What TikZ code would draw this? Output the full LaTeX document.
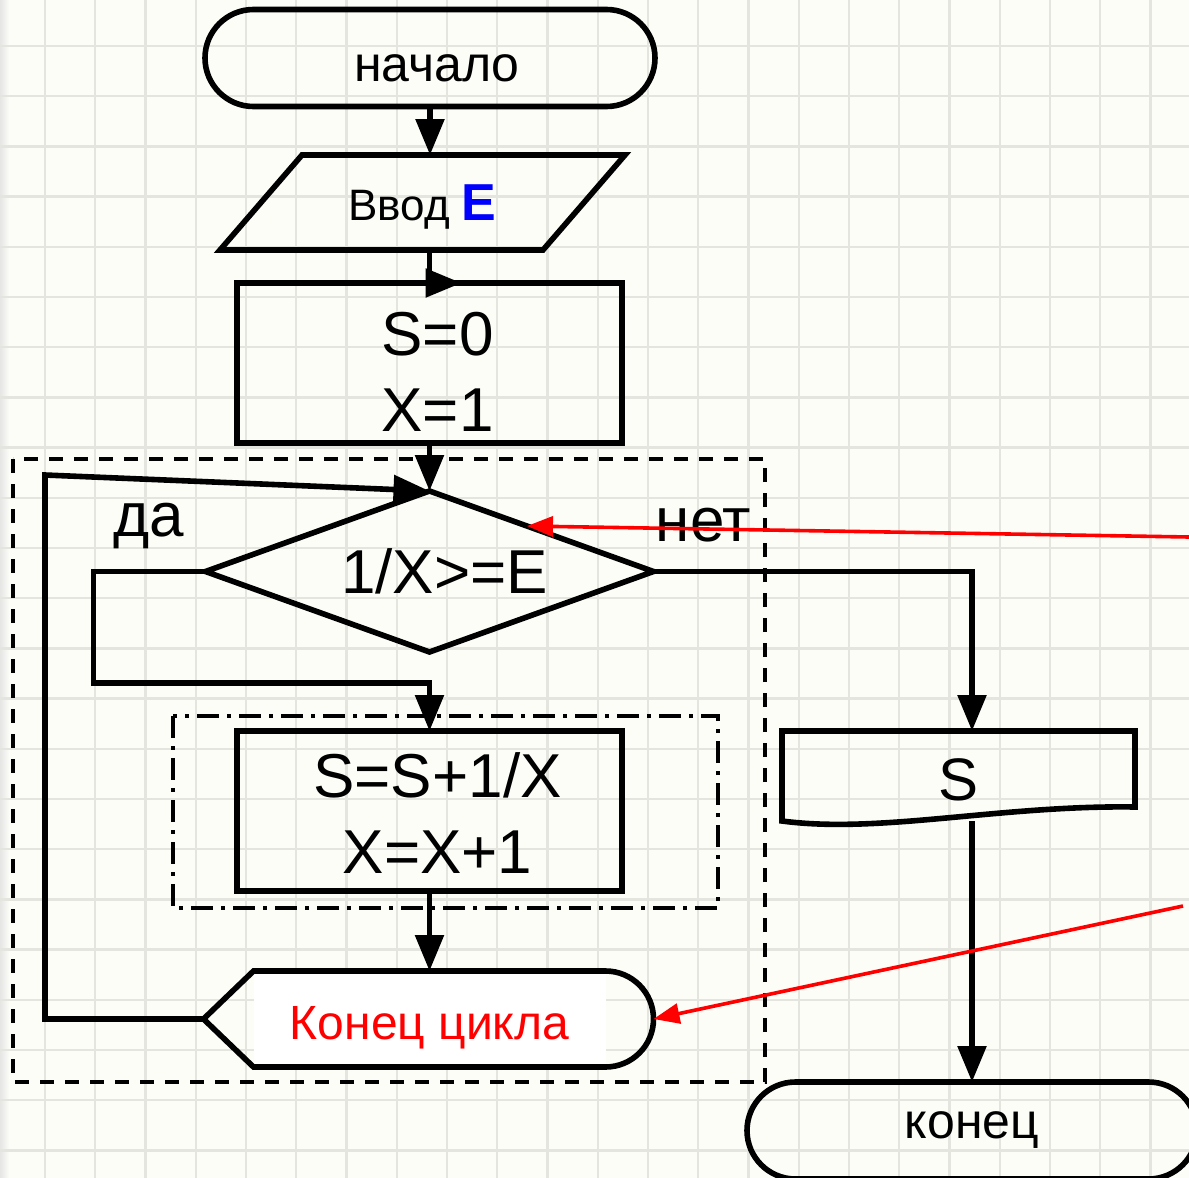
\documentclass[tikz,border=0pt]{standalone}
\usepackage{fontspec}
\setmainfont{Liberation Sans}
\usetikzlibrary{positioning,arrows.meta,shapes.geometric,shapes.misc,calc}
\definecolor{paper}{HTML}{FCFDF7}
\definecolor{gridline}{HTML}{E4E5DF}
\definecolor{notered}{HTML}{FF0000}
\definecolor{varblue}{HTML}{0000FF}
\tikzset{
  box/.style     = {draw, line width=2.8pt, outer sep=0pt, inner sep=0pt, align=center},
  term/.style    = {box, rounded rectangle, minimum width=225pt, minimum height=48.5pt,
                    font=\fontsize{25}{30}\selectfont},
  io/.style      = {rectangle, outer sep=0pt, inner sep=0pt, minimum width=161.5pt,
                    minimum height=47.5pt, font=\fontsize{22}{26}\selectfont},
  proc/.style    = {box, rectangle, minimum width=192.5pt, minimum height=80pt,
                    font=\fontsize{31}{38}\selectfont},
  decide/.style  = {box, diamond, aspect=2.78, minimum width=224pt, minimum height=80.5pt,
                    font=\fontsize{31}{38}\selectfont},
  loopend/.style = {rectangle, fill=white, outer sep=0pt, minimum width=176pt, minimum height=48pt,
                    font=\fontsize{24}{28}\selectfont, text=notered},
  disp/.style    = {rectangle, outer sep=0pt, minimum width=176.5pt, minimum height=45pt,
                    font=\fontsize{30}{36}\selectfont},
  lbl/.style     = {font=\fontsize{31}{36}\selectfont, inner sep=0pt},
  outline/.style = {line width=2.8pt, line join=miter},
  arr/.style     = {-{Triangle[length=18pt,width=14pt]}, line width=2.8pt},
  note/.style    = {-{Triangle[length=13pt,width=10pt]}, line width=1.8pt, draw=notered},
  grp/.style     = {line width=2pt, dash pattern=on 7pt off 5.5pt},
  sub/.style     = {line width=2pt, dash pattern=on 11pt off 4pt on 2pt off 4pt},
}

\begin{document}
\begin{tikzpicture}[x=1pt, y=1pt]
  \useasboundingbox (0,0) rectangle (594.5,-589);

  % ---------------- squared paper ----------------
  \fill[paper] (0,0) rectangle (594.5,-589);
  \shade[left color=black!10, right color=paper] (0,0) rectangle (4.5,-589);
  \foreach \k in {0,...,22} {
    \draw[gridline, line width=1.2pt] ({22.5+25.125*\k},0) -- ++(0,-589);
    \draw[gridline, line width=1.2pt] (0,{-23-25.1*\k}) -- ++(594.5,0);
  }

  % ---------------- main column ----------------
  \node[term] (start) at (215,-29) {\rule{0pt}{24pt}\hspace*{7pt}начало};
  \node[io, below=24.25pt of start, xshift=-3.75pt] (inp)
    {\rule{0pt}{22pt}Ввод {\fontsize{26}{30}\selectfont\bfseries\color{varblue}E}};
  \draw[outline] ([xshift=20.5pt]inp.north west) -- ([xshift=20.5pt]inp.north east)
    -- ([xshift=-20.5pt]inp.south east) -- ([xshift=-20.5pt]inp.south west) -- cycle;
  \node[proc, below=16.5pt of inp, xshift=3.5pt] (init)
    {\rule{0pt}{30.5pt}\hspace*{8pt}S=0\\\hspace*{8pt}X=1};
  \node[decide, below=24pt of init] (cond) {\hspace*{15pt}1/X>=E};
  \node[proc, below=39.5pt of cond] (body)
    {\rule{0pt}{24.5pt}\hspace*{8pt}S=S+1/X\\\hspace*{8pt}X=X+1};
  \node[loopend, below=40pt of body] (endl) {\rule{0pt}{25pt}Конец цикла};
  \coordinate (endtip) at ([xshift=-25pt]endl.west);
  \coordinate (endarc) at ([xshift=24pt]endl.east);
  \draw[outline] (endl.north east) -- (endl.north west) -- (endtip)
    -- (endl.south west) -- (endl.south east) arc[start angle=-90, end angle=90, radius=24pt];

  % ---------------- output and end ----------------
  \node[disp, anchor=north west] (out) at ([xshift=80pt]body.north east) {\rule{0pt}{24.5pt}S};
  \draw[outline] (out.south west) -- (out.north west) -- (out.north east)
    -- ([yshift=7pt]out.south east)
    .. controls +(-67.5pt,1pt) and +(49pt,-6.5pt) .. (out.south west) -- cycle;
  \node[term, below=130.5pt of out, xshift=6.75pt] (fin) {\rule[-5.5pt]{0pt}{0pt}конец};

  % ---------------- loop frames ----------------
  \draw[grp] (6.5,-229.5) rectangle (382.5,-541);
  \draw[sub] ([shift={(-32pt,7.5pt)}]body.north west) rectangle ([shift={(48pt,-8.5pt)}]body.south east);

  % ---------------- branch labels ----------------
  \node[lbl] (yes) at ([shift={(-28.5pt,23pt)}]cond.west) {да};
  \node[lbl] (no)  at ([shift={(25pt,23pt)}]cond.east) {нет};

  % ---------------- connectors ----------------
  \coordinate (back) at (22.5,-237.5);
  \draw[arr] (start.south) -- (start.south |- inp.north);
  \draw[arr] (inp.south -| init.north) -- (init.north) -- ([xshift=16pt]init.north);
  \draw[arr] (init.south) -- (cond.north);
  \draw[arr] (cond.west) -- ++(-56pt,0) |- ([yshift=24pt]body.north) -- (body.north);
  \draw[arr] (body.south) -- (body.south |- endl.north);
  \draw[arr] (endtip) -| (back) -- (cond.north);
  \draw[arr] (cond.east) -| (out.north -| fin.north);
  \draw[arr] (out.south -| fin.north) -- (fin.north);

  % ---------------- red pointers ----------------
  \coordinate (note1) at (594.5,-268.5);
  \coordinate (note2) at (591.5,-453);
  \draw[note] (note1) -- ($(cond.north)!0.435!(cond.east)$);
  \draw[note] (note2) -- (endarc);
\end{tikzpicture}
\end{document}
